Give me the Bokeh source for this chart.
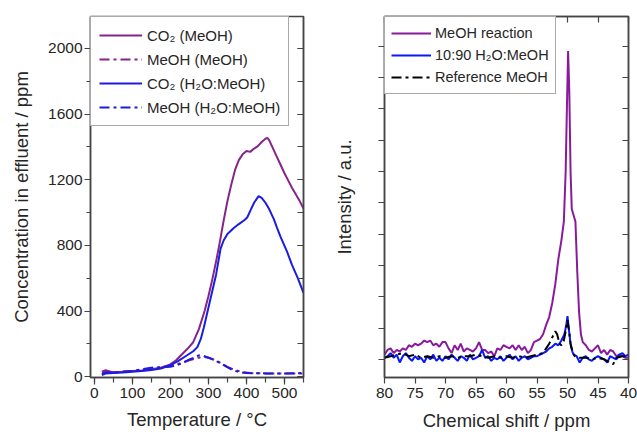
from bokeh.plotting import figure
from bokeh.models import (Range1d, LinearAxis, SingleIntervalTicker, FixedTicker, Legend, LegendItem,
                          CustomLabelingPolicy)
from bokeh.layouts import row
from bokeh.embed import file_html
from bokeh.resources import INLINE

FONT = "Liberation Sans"
TXT = "#262626"

# ---------------- Left panel data (Temperature / °C vs ppm) ----------------
t_co2_meoh = [20, 30, 50, 75, 100, 125, 150, 175, 200, 215, 230, 245, 260, 275, 290, 300, 310, 320, 330, 340,
              350, 360, 370, 380, 390, 400, 410, 420, 430, 440, 450, 455, 460, 470, 480, 490, 500, 510, 520,
              530, 540, 550]
c_co2_meoh = [25, 30, 28, 30, 35, 38, 45, 55, 75, 100, 135, 170, 210, 290, 400, 490, 590, 700, 820, 950,
              1070, 1170, 1260, 1320, 1355, 1375, 1370, 1390, 1405, 1430, 1450, 1455, 1440, 1390, 1340, 1290,
              1240, 1195, 1150, 1110, 1070, 1025]

t_co2_h2o = [20, 30, 50, 75, 100, 125, 150, 175, 200, 220, 245, 260, 271, 280, 288, 300, 314, 320, 332, 340,
             350, 366, 380, 395, 402, 410, 420, 432, 440, 450, 460, 472, 480, 490, 507, 520, 535, 550]
c_co2_h2o = [10, 20, 22, 25, 30, 35, 40, 50, 70, 95, 132, 155, 180, 230, 300, 420, 560, 620, 780, 830,
             870, 905, 930, 955, 970, 1010, 1060, 1100, 1090, 1060, 1020, 960, 910, 850, 760, 680, 600, 510]

t_meoh_meoh = [20, 30, 50, 100, 150, 200, 230, 250, 265, 280, 290, 300, 310, 320, 335, 350, 370, 390, 410, 450, 500, 550]
c_meoh_meoh = [30, 40, 25, 35, 50, 65, 85, 100, 110, 118, 120, 115, 108, 98, 80, 60, 40, 28, 22, 20, 20, 20]

t_meoh_h2o = [20, 30, 50, 100, 150, 200, 230, 250, 262, 275, 285, 295, 305, 315, 330, 345, 360, 380, 400, 450, 500, 550]
c_meoh_h2o = [15, 25, 25, 35, 55, 60, 80, 105, 115, 130, 128, 120, 112, 100, 85, 65, 45, 28, 22, 20, 20, 22]

left_labels = ["CO\u2082 (MeOH)", "MeOH (MeOH)", "CO\u2082 (H\u2082O:MeOH)", "MeOH (H\u2082O:MeOH)"]

# ---------------- Right panel data (chemical shift / ppm vs intensity) ----------------
x_react = [80, 79.5, 79, 78.5, 78, 77.5, 77, 76.5, 76, 75.5, 75, 74.5, 74, 73.5, 73, 72.5, 72, 71.5, 71, 70.5,
           70, 69.5, 69, 68.5, 68, 67.5, 67, 66.5, 66, 65.5, 65, 64.5, 64, 63.5, 63, 62.5, 62, 61.5, 61, 60.5,
           60, 59.5, 59, 58.5, 58, 57.5, 57, 56.5, 56, 55.5, 55, 54.5, 54, 53.5, 53, 52.5, 52, 51.5, 51, 50.6,
           50.3, 50.1, 49.9, 49.7, 49.5, 49.3, 49.0, 48.7, 48.4, 48.1, 47.8, 47.5, 47, 46.5, 46, 45.5, 45, 44.5,
           44, 43.5, 43, 42.5, 42, 41.5, 41, 40.5, 40]
y_react = [0.15, 0.3, 0.35, 0.2, 0.3, 0.25, 0.35, 0.3, 0.45, 0.4, 0.5, 0.45, 0.5, 0.6, 0.55, 0.6, 0.45, 0.5, 0.4, 0.55,
           0.55, 0.35, 0.2, 0.45, 0.3, 0.5, 0.25, 0.35, 0.3, 0.25, 0.35, 0.55, 0.3, 0.3, 0.2, 0.25, 0.1, 0.35, 0.3, 0.45,
           0.4, 0.35, 0.45, 0.3, 0.45, 0.3, 0.4, 0.2, 0.3, 0.55, 0.6, 0.65, 0.8, 1.1, 1.35, 1.8, 2.4, 3.2, 3.8, 4.4,
           6.0, 8.0, 9.85, 8.5, 6.0, 4.8, 4.6, 4.4, 2.8, 1.5, 0.8, 0.55, 0.45, 0.3, 0.25, 0.35, 0.45, 0.2,
           0.3, 0.15, 0.3, 0.25, 0.1, 0.15, 0.1, 0.05, 0.05]

x_h2o = [80, 79.5, 79, 78.5, 78, 77.5, 77, 76.5, 76, 75.5, 75, 74.5, 74, 73.5, 73, 72.5, 72, 71.5, 71, 70.5,
         70, 69.5, 69, 68.5, 68, 67.5, 67, 66.5, 66, 65.5, 65, 64.5, 64, 63.5, 63, 62.5, 62, 61.5, 61, 60.5,
         60, 59.5, 59, 58.5, 58, 57.5, 57, 56.5, 56, 55.5, 55, 54.5, 54, 53.5, 53, 52.5, 52, 51.5, 51, 50.5,
         50.2, 50.0, 49.8, 49.5, 49.2, 49, 48.5, 48, 47.5, 47, 46.5, 46, 45.5, 45, 44.5, 44, 43.5, 43, 42.5,
         42, 41.5, 41, 40.5, 40]
y_h2o = [0.05, 0.1, 0.2, 0.05, 0.15, -0.1, 0.1, 0.2, 0.05, -0.05, 0.1, 0.0, 0.05, -0.1, 0.1, 0.0, 0.15, -0.05, 0.05, -0.05,
         0.1, 0.0, 0.15, 0.05, -0.05, 0.1, 0.05, -0.05, 0.15, 0.0, 0.05, 0.1, 0.3, 0.05, 0.1, -0.05, 0.05, 0.0, 0.1, -0.05,
         0.05, 0.15, 0.0, 0.1, -0.05, 0.05, 0.1, 0.0, 0.05, 0.1, 0.1, 0.15, 0.2, 0.25, 0.35, 0.4, 0.5, 0.45, 0.6, 0.8,
         1.1, 1.38, 1.0, 0.5, 0.25, 0.15, 0.1, -0.1, 0.05, 0.1, 0.0, -0.05, 0.05, 0.1, 0.05, 0.0, -0.1, 0.1, 0.05,
         0.0, 0.15, 0.2, 0.1, 0.15]

x_ref = [80, 79, 78, 77, 76, 75, 74, 73, 72, 71, 70, 69, 68, 67, 66, 65, 64, 63, 62, 61, 60, 59, 58, 57, 56, 55,
         54, 53.5, 53, 52.5, 52, 51.7, 51.3, 51, 50.6, 50.3, 50.0, 49.8, 49.5, 49.2, 48.8, 48, 47, 46, 45, 44, 43,
         42.5, 42, 41, 40]
y_ref = [0.05, 0.1, 0.15, 0.2, 0.1, 0.15, 0.05, 0.1, 0.05, 0.1, 0.05, 0.1, 0.05, 0.1, 0.1, 0.15, 0.1, 0.05, 0.1, 0.05,
         0.1, 0.05, 0.1, 0.05, 0.1, 0.15, 0.2, 0.35, 0.5, 0.7, 0.9, 0.8, 0.5, 0.45, 0.6, 0.9, 1.25, 1.0, 0.5, 0.25,
         0.1, 0.05, 0.05, 0.0, 0.05, 0.0, -0.1, -0.15, 0.05, 0.1, 0.1]

right_labels = ["MeOH reaction", "10:90 H\u2082O:MeOH", "Reference MeOH"]

PURPLE_L = "#85258a"
BLUE_L = "#1c1ce0"
PURPLE_R = "#8a1a9c"
BLUE_R = "#0a18ff"
DASHDOT = "10 4 3 4"


def style_axis(ax, size="15.5px"):
    ax.major_label_text_font = FONT
    ax.major_label_text_font_size = size
    ax.major_label_text_color = TXT
    ax.axis_label_text_font = FONT
    ax.axis_label_text_font_size = "18.5px"
    ax.axis_label_text_font_style = "normal"
    ax.axis_label_text_color = TXT
    ax.axis_line_color = "#444444"
    ax.axis_line_width = 1.5
    ax.major_tick_line_color = "#444444"
    ax.minor_tick_line_color = "#444444"
    ax.major_tick_line_width = 1.2
    ax.minor_tick_line_width = 1.2


def no_labels():
    return CustomLabelingPolicy(code="for (const i of indices) { indices.unset(i) }\nreturn indices")


def hidden_labels(ax):
    ax.major_label_policy = no_labels()
    ax.major_label_text_font_size = "0px"
    ax.major_label_standoff = 0


# ---------------- Left figure ----------------
p1 = figure(width=330, height=438, output_backend="svg", toolbar_location=None,
            x_range=Range1d(-10, 550), y_range=Range1d(-5, 2195),
            min_border_left=90, min_border_right=27, min_border_top=15, min_border_bottom=58)
p1.grid.visible = False
p1.outline_line_color = "#444444"
p1.outline_line_width = 1.5
p1.background_fill_color = "white"

r1 = p1.line(t_co2_meoh, c_co2_meoh, line_color=PURPLE_L, line_width=2)
r2 = p1.line(t_meoh_meoh, c_meoh_meoh, line_color=PURPLE_L, line_width=2, line_dash=DASHDOT)
r3 = p1.line(t_co2_h2o, c_co2_h2o, line_color=BLUE_L, line_width=2)
r4 = p1.line(t_meoh_h2o, c_meoh_h2o, line_color=BLUE_L, line_width=2, line_dash=DASHDOT)

xa = p1.xaxis[0]
xa.ticker = SingleIntervalTicker(interval=100, num_minor_ticks=2)
style_axis(xa)
xa.axis_label = "Temperature / \u00b0C"
xa.major_tick_in = 0
xa.major_tick_out = 7
xa.minor_tick_in = 0
xa.minor_tick_out = 5
xa.major_label_standoff = 3
xa.axis_label_standoff = 8

ya = p1.yaxis[0]
ya.ticker = SingleIntervalTicker(interval=400, num_minor_ticks=2)
style_axis(ya)
ya.axis_label = "Concentration in effluent / ppm"
ya.major_tick_in = 0
ya.major_tick_out = 6
ya.minor_tick_in = 0
ya.minor_tick_out = 4
ya.major_label_standoff = 2
ya.axis_label_standoff = 13

ra = LinearAxis(ticker=SingleIntervalTicker(interval=400, num_minor_ticks=2))
style_axis(ra)
hidden_labels(ra)
ra.major_tick_in = 6
ra.major_tick_out = 0
ra.minor_tick_in = 6
ra.minor_tick_out = 0
p1.add_layout(ra, "right")

leg1 = Legend(items=[LegendItem(label=left_labels[0], renderers=[r1]),
                     LegendItem(label=left_labels[1], renderers=[r2]),
                     LegendItem(label=left_labels[2], renderers=[r3]),
                     LegendItem(label=left_labels[3], renderers=[r4])],
              location="top_left", margin=0, padding=8, spacing=4,
              glyph_width=43, glyph_height=20, label_height=20, label_standoff=5,
              label_text_font=FONT, label_text_font_size="15px", label_text_color=TXT,
              border_line_color="#555555", border_line_width=1, background_fill_alpha=1)
p1.add_layout(leg1, "center")

# ---------------- Right figure ----------------
p2 = figure(width=307, height=438, output_backend="svg", toolbar_location=None,
            x_range=Range1d(80, 40), y_range=Range1d(-0.58, 10.95),
            min_border_left=54, min_border_right=9, min_border_top=16, min_border_bottom=61)
p2.grid.visible = False
p2.outline_line_color = "#444444"
p2.outline_line_width = 1.5

s1 = p2.line(x_react, y_react, line_color=PURPLE_R, line_width=2)
s2 = p2.line(x_h2o, y_h2o, line_color=BLUE_R, line_width=2)
s3 = p2.line(x_ref, y_ref, line_color="black", line_width=2, line_dash=DASHDOT)

xb = p2.xaxis[0]
xb.ticker = SingleIntervalTicker(interval=5, num_minor_ticks=0)
style_axis(xb)
xb.axis_label = "Chemical shift / ppm"
xb.major_tick_in = 0
xb.major_tick_out = 6
xb.minor_tick_in = 0
xb.minor_tick_out = 0
xb.major_label_standoff = 4
xb.axis_label_standoff = 9

yb = p2.yaxis[0]
yb.ticker = FixedTicker(ticks=list(range(0, 11)), minor_ticks=[])
style_axis(yb)
hidden_labels(yb)
yb.axis_label = "Intensity / a.u."
yb.major_tick_in = 0
yb.major_tick_out = 6
yb.minor_tick_in = 0
yb.minor_tick_out = 0
yb.axis_label_standoff = 24

rb = LinearAxis(ticker=FixedTicker(ticks=list(range(0, 11)), minor_ticks=[]))
style_axis(rb)
hidden_labels(rb)
rb.major_tick_in = 6
rb.major_tick_out = 0
rb.minor_tick_in = 0
rb.minor_tick_out = 0
p2.add_layout(rb, "right")

tb = LinearAxis(ticker=SingleIntervalTicker(interval=5, num_minor_ticks=0))
style_axis(tb)
hidden_labels(tb)
tb.major_tick_in = 6
tb.major_tick_out = 0
tb.minor_tick_in = 0
tb.minor_tick_out = 0
p2.add_layout(tb, "above")

leg2 = Legend(items=[LegendItem(label=right_labels[0], renderers=[s1]),
                     LegendItem(label=right_labels[1], renderers=[s2]),
                     LegendItem(label=right_labels[2], renderers=[s3])],
              location="top_left", margin=0, padding=6, spacing=2,
              glyph_width=40, glyph_height=20, label_height=20, label_standoff=4,
              label_text_font=FONT, label_text_font_size="14.5px", label_text_color=TXT,
              border_line_color="#555555", border_line_width=1, background_fill_alpha=1)
p2.add_layout(leg2, "center")

layout = row(p1, p2, spacing=0)
open("out.html", "w").write(file_html(layout, INLINE))
